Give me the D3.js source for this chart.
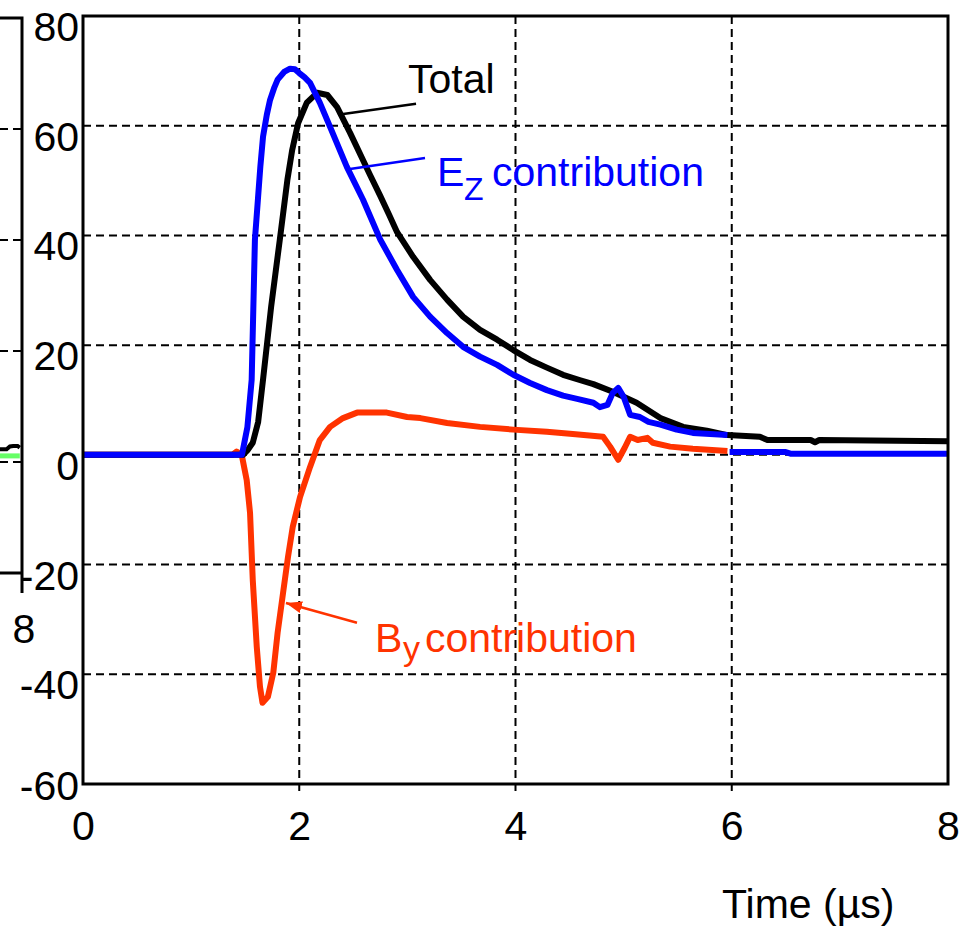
<!DOCTYPE html>
<html>
<head>
<meta charset="utf-8">
<script src="https://cdn.jsdelivr.net/npm/d3@7"></script>
<style>
  body { margin: 0; background: #fff; }
  svg { display: block; font-family: "Liberation Sans", Arial, sans-serif; }
</style>
</head>
<body>
<div id="chart"></div>
<script>
// values, time in microseconds

// Ez contribution (blue) - null marks the break in the trace just before 6 us
const ezTime = [0, 1.45, 1.47, 1.52, 1.56, 1.59, 1.64, 1.665, 1.70, 1.73, 1.77, 1.80, 1.86, 1.915, 1.96, 2.0, 2.05, 2.10, 2.19, 2.285, 2.44, 2.59, 2.75, 2.905, 3.053, 3.21, 3.367, 3.515, 3.672, 3.83, 3.98, 4.135, 4.29, 4.44, 4.57, 4.72, 4.78, 4.85, 4.90, 4.95, 5.0, 5.06, 5.15, 5.23, 5.34, 5.49, 5.64, 5.80, 5.96, 5.97, 5.98, 6.2, 6.5, 6.55, 8.0];
const ezValues = [0, 0, 0, 5, 13.7, 39.2, 52.5, 58, 62.0, 64.7, 67.0, 68.4, 69.8, 70.4, 70.3, 69.6, 68.8, 67.8, 64.2, 59.8, 52.5, 46.5, 39.2, 33.7, 28.8, 25.2, 22.2, 19.7, 17.9, 16.4, 14.6, 13.1, 11.8, 10.8, 10.2, 9.5, 8.7, 9.1, 11.3, 12.2, 10.6, 7.3, 6.9, 6.0, 5.5, 4.6, 4.0, 3.8, 3.6, null, 0.5, 0.5, 0.5, 0.2, 0.2];

// Total (black)
const totalTime = [0, 1.48, 1.52, 1.57, 1.62, 1.665, 1.74, 1.82, 1.89, 1.935, 1.99, 2.07, 2.165, 2.26, 2.35, 2.47, 2.655, 2.747, 2.83, 2.905, 3.053, 3.21, 3.367, 3.515, 3.672, 3.83, 3.98, 4.135, 4.29, 4.44, 4.60, 4.72, 4.90, 5.12, 5.34, 5.55, 5.77, 5.96, 6.26, 6.33, 6.73, 6.77, 6.81, 8.0];
const totalValues = [0, 0, 0.8, 2.2, 6, 13.7, 27, 39.2, 50.1, 55.6, 60.5, 64.2, 66.0, 65.6, 63.4, 58.7, 51.0, 47.3, 43.8, 40.6, 36.1, 31.9, 28.3, 25.2, 22.8, 21.0, 19.1, 17.3, 15.9, 14.6, 13.6, 12.9, 11.5, 9.5, 6.7, 5.1, 4.4, 3.6, 3.3, 2.7, 2.7, 2.3, 2.7, 2.5];

// By contribution (red)
const byTime = [0, 1.38, 1.42, 1.468, 1.514, 1.545, 1.57, 1.607, 1.637, 1.66, 1.71, 1.76, 1.80, 1.85, 1.896, 1.94, 2.007, 2.10, 2.19, 2.285, 2.405, 2.535, 2.81, 2.997, 3.12, 3.367, 3.672, 3.98, 4.29, 4.53, 4.81, 4.875, 4.95, 5.01, 5.06, 5.13, 5.22, 5.27, 5.43, 5.64, 5.96];
const byValues = [0, 0, 0.6, 0, -4.6, -10.6, -22.8, -35, -42.3, -45.2, -44.1, -39.7, -32.4, -25.2, -18.6, -13.1, -7.7, -2.2, 2.7, 5.1, 6.7, 7.7, 7.7, 6.9, 6.7, 5.8, 5.1, 4.6, 4.2, 3.8, 3.3, 1.5, -0.9, 1.3, 3.3, 2.7, 3.1, 2.2, 1.5, 1.1, 0.7];

// neighbouring panel cut off on the left (only its last bit shows)
const leftTime = [7.8, 7.86, 7.89, 7.92, 7.96, 7.98];
const leftTotal = [2.3, 2.3, 2.8, 2.9, 2.9, 2.6];
const leftGreen = [1.1, 1.1, 1.1, 1.1, 1.1, 1.1];

const xTicks = [0, 2, 4, 6, 8];
const yTicks = [80, 60, 40, 20, 0, -20, -40, -60];
const leftGridTicks = [60, 40, 20, 0];

const width = 968;
const height = 933;
const margin = {left: 83, right: 20, top: 16, bottom: 149};
const fontSize = 41;
const red = "#ff3300";
const blue = "#0000ff";

const svg = d3.select("#chart")
  .append("svg")
  .attr("width", width)
  .attr("height", height);

const xScale = d3.scaleLinear()
  .domain([0, 8])
  .range([margin.left, width - margin.right]);

const yScale = d3.scaleLinear()
  .domain([-60, 80])
  .range([height - margin.bottom, margin.top]);

const bottom = height - margin.bottom;

// ---- left (cut off) panel ----
const xLeft = d3.scaleLinear().domain([7.8, 8]).range([0, 22]);
const yLeft = d3.scaleLinear().domain([-20, 80]).range([573, 18]);

const leftG = svg.append("g");

leftG.selectAll(".lgrid")
  .data(leftGridTicks)
  .enter()
  .append("line")
    .attr("x1", 0)
    .attr("x2", xLeft(8))
    .attr("y1", d => yLeft(d))
    .attr("y2", d => yLeft(d))
    .attr("stroke", "#000")
    .attr("stroke-width", 2)
    .attr("stroke-dasharray", "8,5");

const leftLine = d3.line()
  .x((d, i) => xLeft(leftTime[i]))
  .y(d => yLeft(d));

leftG.append("path")
  .attr("d", leftLine(leftGreen))
  .attr("fill", "none")
  .attr("stroke", "#66ff66")
  .attr("stroke-width", 5);

leftG.append("path")
  .attr("d", leftLine(leftTotal))
  .attr("fill", "none")
  .attr("stroke", "#000")
  .attr("stroke-width", 4);

// frame of the left panel
leftG.append("path")
  .attr("d", `M0,${yLeft(80)}H${xLeft(8)}V${yLeft(-20) + 20}M0,${yLeft(-20)}H${xLeft(8)}`)
  .attr("fill", "none")
  .attr("stroke", "#000")
  .attr("stroke-width", 3);

leftG.append("text")
  .attr("x", xLeft(8) + 2)
  .attr("y", 643)
  .attr("text-anchor", "middle")
  .attr("font-size", fontSize)
  .text("8");

// ---- main panel ----

// dashed grid
svg.append("g")
  .selectAll("line")
  .data(yTicks.filter(d => d > -60 && d < 80))
  .enter()
  .append("line")
    .attr("x1", xScale(0))
    .attr("x2", xScale(8))
    .attr("y1", d => yScale(d))
    .attr("y2", d => yScale(d))
    .attr("stroke", "#000")
    .attr("stroke-width", 2)
    .attr("stroke-dasharray", "8,5");

svg.append("g")
  .selectAll("line")
  .data(xTicks.filter(d => d > 0 && d < 8))
  .enter()
  .append("line")
    .attr("x1", d => xScale(d))
    .attr("x2", d => xScale(d))
    .attr("y1", yScale(80))
    .attr("y2", bottom + 9)
    .attr("stroke", "#000")
    .attr("stroke-width", 2)
    .attr("stroke-dasharray", "8,5");

// curves
const curve = (times) => d3.line()
  .defined(d => d !== null)
  .x((d, i) => xScale(times[i]))
  .y(d => yScale(d));

svg.append("path")
  .attr("d", curve(byTime)(byValues))
  .attr("fill", "none")
  .attr("stroke", red)
  .attr("stroke-width", 6)
  .attr("stroke-linejoin", "round");

svg.append("path")
  .attr("d", curve(totalTime)(totalValues))
  .attr("fill", "none")
  .attr("stroke", "#000")
  .attr("stroke-width", 6)
  .attr("stroke-linejoin", "round");

svg.append("path")
  .attr("d", curve(ezTime)(ezValues))
  .attr("fill", "none")
  .attr("stroke", blue)
  .attr("stroke-width", 6)
  .attr("stroke-linejoin", "round");

// frame
svg.append("rect")
  .attr("x", xScale(0))
  .attr("y", yScale(80))
  .attr("width", xScale(8) - xScale(0))
  .attr("height", yScale(-60) - yScale(80))
  .attr("fill", "none")
  .attr("stroke", "#000")
  .attr("stroke-width", 3);

// y tick labels
svg.append("g")
  .selectAll("text")
  .data(yTicks)
  .enter()
  .append("text")
    .attr("x", xScale(0) - 4)
    .attr("y", d => yScale(d) + (d === -60 ? 16 : 25))
    .attr("text-anchor", "end")
    .attr("font-size", fontSize)
    .text(d => d);

// x tick labels
svg.append("g")
  .attr("transform", `translate(0,${bottom})`)
  .call(d3.axisBottom(xScale).tickValues(xTicks).tickSize(0).tickPadding(27))
  .call(g => g.select(".domain").remove())
  .selectAll("text")
    .attr("font-size", fontSize)
    .attr("font-family", "Liberation Sans, Arial, sans-serif")
    .attr("fill", "#000");

svg.append("text")
  .attr("x", 722)
  .attr("y", 918)
  .attr("font-size", fontSize)
  .text("Time (\u00b5s)");

// ---- annotations ----
svg.append("defs").append("marker")
  .attr("id", "arrow")
  .attr("markerUnits", "userSpaceOnUse")
  .attr("viewBox", "0 0 16 12")
  .attr("refX", 16)
  .attr("refY", 6)
  .attr("markerWidth", 16)
  .attr("markerHeight", 12)
  .attr("orient", "auto")
  .append("path")
    .attr("d", "M0,0L16,6L0,12z")
    .attr("fill", red);

const leader = (x1, y1, x2, y2, color) => svg.append("line")
  .attr("x1", xScale(x1)).attr("y1", yScale(y1))
  .attr("x2", xScale(x2)).attr("y2", yScale(y2))
  .attr("stroke", color)
  .attr("stroke-width", 2.5);

leader(3.08, 64.0, 2.358, 62.0, "#000");
leader(3.163, 54.1, 2.469, 52.1, blue);
leader(2.534, -30.6, 1.877, -27.0, red).attr("marker-end", "url(#arrow)");

// Total
svg.append("text")
  .attr("x", xScale(3.006))
  .attr("y", yScale(66.0))
  .attr("font-size", fontSize)
  .attr("fill", "#000")
  .text("Total");

// Ez contribution
const ezX = xScale(3.274), ezY = yScale(49.0);
svg.append("text").attr("x", ezX).attr("y", ezY)
  .attr("font-size", fontSize).attr("fill", blue).text("E");
svg.append("text").attr("x", ezX + 27).attr("y", ezY + 14)
  .attr("font-size", 32).attr("fill", blue).text("Z");
svg.append("text").attr("x", ezX + 55).attr("y", ezY)
  .attr("font-size", fontSize).attr("fill", blue).text("contribution");

// By contribution
const byX = xScale(2.70), byY = yScale(-35.9);
svg.append("text").attr("x", byX).attr("y", byY)
  .attr("font-size", fontSize).attr("fill", red).text("B");
svg.append("text").attr("x", byX + 28).attr("y", byY + 8)
  .attr("font-size", 34).attr("fill", red).text("y");
svg.append("text").attr("x", byX + 50).attr("y", byY)
  .attr("font-size", fontSize).attr("fill", red).text("contribution");
</script>
</body>
</html>
